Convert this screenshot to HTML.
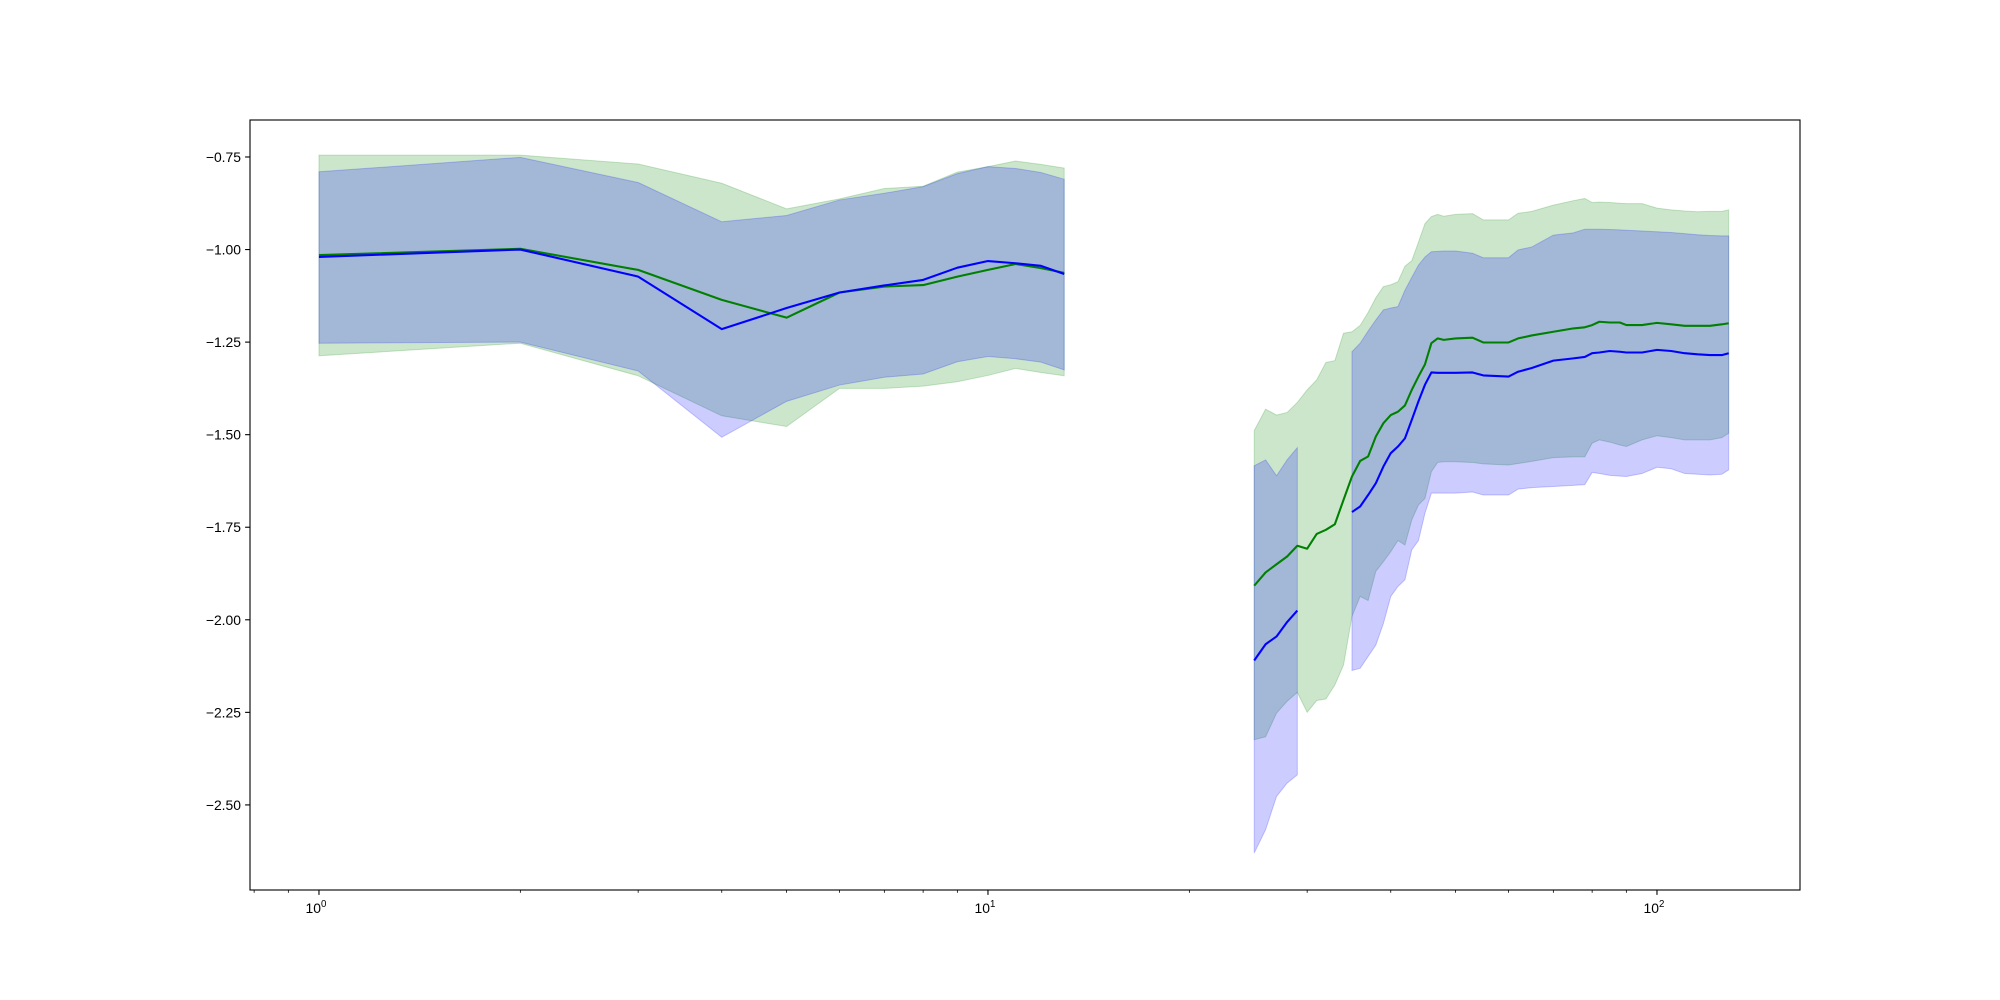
<!DOCTYPE html>
<html><head><meta charset="utf-8"><style>
body{margin:0;background:#fff}
svg{display:block;font-family:"Liberation Sans","DejaVu Sans",sans-serif}
</style></head><body>
<svg id="chart" width="2000" height="1000" viewBox="0 0 2000 1000" xmlns="http://www.w3.org/2000/svg">
<rect x="0" y="0" width="2000" height="1000" fill="#fff"/>
<g id="plot"></g>
<g id="axes"></g>
</svg>
<script>
const xs=[1,2,3,4,5,6,7,8,9,10,11,12,13,20,
25,26,27,28,29,30,31,32,33,34,35,36,37,38,39,40,41,42,43,44,45,46,47,
48,50,53,55,60,62,65,70,75,78,80,82,85,88,90,95,100,105,110,115,120,125,128];
const greenMean=[-1.015,-0.998,-1.055,-1.136,-1.184,-1.116,-1.10,-1.096,-1.073,-1.055,-1.039,-1.05,-1.063,null,
-1.908,-1.872,-1.85,-1.829,-1.80,-1.808,-1.768,-1.757,-1.742,-1.676,-1.613,-1.571,-1.559,-1.505,-1.469,-1.447,-1.438,-1.421,-1.379,-1.343,-1.31,-1.253,-1.24,
-1.244,-1.24,-1.238,-1.251,-1.251,-1.24,-1.232,-1.222,-1.213,-1.21,-1.204,-1.195,-1.197,-1.197,-1.204,-1.204,-1.198,-1.202,-1.206,-1.206,-1.206,-1.202,-1.199];
const greenUpper=[-0.745,-0.745,-0.769,-0.821,-0.89,-0.863,-0.835,-0.829,-0.791,-0.776,-0.761,-0.77,-0.78,null,
-1.489,-1.431,-1.447,-1.44,-1.413,-1.379,-1.352,-1.305,-1.30,-1.226,-1.222,-1.205,-1.17,-1.13,-1.10,-1.095,-1.087,-1.045,-1.03,-0.98,-0.93,-0.911,-0.905,
-0.91,-0.905,-0.903,-0.92,-0.92,-0.902,-0.897,-0.88,-0.868,-0.862,-0.873,-0.872,-0.873,-0.875,-0.876,-0.876,-0.888,-0.893,-0.896,-0.898,-0.897,-0.897,-0.893];
const greenLower=[-1.287,-1.253,-1.341,-1.449,-1.478,-1.375,-1.375,-1.369,-1.357,-1.34,-1.321,-1.332,-1.341,null,
-2.324,-2.316,-2.252,-2.22,-2.196,-2.25,-2.218,-2.214,-2.176,-2.122,-1.991,-1.937,-1.948,-1.869,-1.843,-1.816,-1.786,-1.798,-1.73,-1.69,-1.672,-1.6,-1.575,
-1.573,-1.573,-1.575,-1.579,-1.582,-1.578,-1.572,-1.562,-1.56,-1.56,-1.523,-1.514,-1.52,-1.528,-1.532,-1.514,-1.503,-1.508,-1.514,-1.514,-1.514,-1.508,-1.496];
const blueMean=[-1.02,-1.0,-1.073,-1.215,-1.158,-1.116,-1.097,-1.082,-1.049,-1.031,-1.037,-1.044,-1.066,null,
-2.11,-2.066,-2.045,-2.006,-1.975,null,null,null,null,null,
-1.709,-1.694,-1.663,-1.631,-1.586,-1.55,-1.532,-1.51,-1.46,-1.41,-1.365,-1.332,-1.333,
-1.333,-1.333,-1.332,-1.34,-1.343,-1.33,-1.32,-1.30,-1.294,-1.29,-1.28,-1.278,-1.274,-1.276,-1.278,-1.278,-1.271,-1.274,-1.28,-1.283,-1.285,-1.285,-1.28];
const blueUpper=[-0.79,-0.751,-0.819,-0.925,-0.908,-0.866,-0.848,-0.83,-0.795,-0.776,-0.781,-0.792,-0.81,null,
-1.584,-1.568,-1.611,-1.568,-1.535,null,null,null,null,null,
-1.276,-1.253,-1.22,-1.19,-1.163,-1.158,-1.154,-1.11,-1.075,-1.042,-1.02,-1.006,-1.005,
-1.004,-1.004,-1.01,-1.022,-1.022,-1.001,-0.993,-0.961,-0.955,-0.945,-0.945,-0.945,-0.946,-0.947,-0.948,-0.95,-0.952,-0.954,-0.957,-0.96,-0.962,-0.963,-0.963];
const blueLower=[-1.253,-1.25,-1.328,-1.507,-1.41,-1.366,-1.345,-1.336,-1.303,-1.289,-1.295,-1.304,-1.325,null,
-2.63,-2.567,-2.477,-2.441,-2.419,null,null,null,null,null,
-2.137,-2.131,-2.099,-2.068,-2.01,-1.937,-1.91,-1.892,-1.811,-1.786,-1.712,-1.658,-1.658,
-1.658,-1.658,-1.655,-1.663,-1.663,-1.647,-1.643,-1.64,-1.637,-1.635,-1.602,-1.605,-1.61,-1.612,-1.613,-1.605,-1.588,-1.592,-1.605,-1.607,-1.609,-1.607,-1.595];
const yTicks=[-0.75,-1.00,-1.25,-1.50,-1.75,-2.00,-2.25,-2.50];
const xMajor=[1,10,100];
const xMajorExp=["0","1","2"];

const L=250,R=1800,T=120,B=890;
const xMinL=Math.log10(0.7887),xMaxL=Math.log10(163.6);
const yMin=-2.7298,yMax=-0.6501;
const X=v=>L+(Math.log10(v)-xMinL)/(xMaxL-xMinL)*(R-L);
const Y=v=>B-(v-yMin)/(yMax-yMin)*(B-T);
const NS="http://www.w3.org/2000/svg";
const plot=document.getElementById('plot'),axes=document.getElementById('axes');
function mk(tag,attrs,parent){const e=document.createElementNS(NS,tag);for(const k in attrs)e.setAttribute(k,attrs[k]);parent.appendChild(e);return e;}
function runs(a,b){const r=[];let cur=[];for(let i=0;i<xs.length;i++){const ok=a[i]!=null&&(!b||b[i]!=null);if(ok)cur.push(i);else if(cur.length){r.push(cur);cur=[];}}if(cur.length)r.push(cur);return r;}
function band(lo,hi,color,name){
  runs(lo,hi).forEach(run=>{
    let d='M'+run.map(i=>X(xs[i]).toFixed(2)+','+Y(hi[i]).toFixed(2)).join('L');
    d+='L'+run.slice().reverse().map(i=>X(xs[i]).toFixed(2)+','+Y(lo[i]).toFixed(2)).join('L')+'Z';
    const p=mk('path',{d:d,fill:color,'fill-opacity':0.2,stroke:color,'stroke-opacity':0.2,'stroke-width':1},plot);
    
    
  });
}
function line(v,color,name){
  runs(v).forEach(run=>{
    const d='M'+run.map(i=>X(xs[i]).toFixed(2)+','+Y(v[i]).toFixed(2)).join('L');
    const p=mk('path',{d:d,fill:'none',stroke:color,'stroke-width':2.08,'stroke-linejoin':'round'},plot);
    
    
  });
}
band(greenLower,greenUpper,'#008000','green-band');
band(blueLower,blueUpper,'#0000ff','blue-band');
line(greenMean,'#008000','green-mean-line');
line(blueMean,'#0000ff','blue-mean-line');

const frame=mk('rect',{x:L,y:T,width:R-L,height:B-T,fill:'none',stroke:'#000','stroke-width':1.1},axes);


yTicks.forEach(v=>{
  const y=Y(v);
  const t=mk('line',{x1:L,x2:L-4.9,y1:y,y2:y,stroke:'#000','stroke-width':1.1},axes);
  
  
  const tx=mk('text',{x:L-9,y:y+5,'text-anchor':'end','font-size':'13.9px',fill:'#000'},axes);
  tx.textContent=(v<0?'\u2212':'')+Math.abs(v).toFixed(2);
  
  
});
xMajor.forEach((v,i)=>{
  const x=X(v);
  const t=mk('line',{x1:x,x2:x,y1:B,y2:B+4.9,stroke:'#000','stroke-width':1.1},axes);
  
  
  const tx=mk('text',{x:x-3,y:B+23,'text-anchor':'middle','font-size':'13.9px',fill:'#000'},axes);
  tx.textContent='10';
  
  
  const sp=mk('tspan',{dy:-6,'font-size':'9.7px'},tx);
  sp.textContent=xMajorExp[i];
});
[0.8,0.9,2,3,4,5,6,7,8,9,20,30,40,50,60,70,80,90,200/1.25*0.0+200,300].forEach(()=>{});
const minors=[];
[0.1,1,10,100].forEach(d=>{for(let k=2;k<=9;k++)minors.push(d*k);});
minors.filter(v=>X(v)>=L&&X(v)<=R).forEach(v=>{
  const x=X(v);
  const t=mk('line',{x1:x,x2:x,y1:B,y2:B+2.8,stroke:'#000','stroke-width':0.8},axes);
  
  
});
</script>
</body></html>
